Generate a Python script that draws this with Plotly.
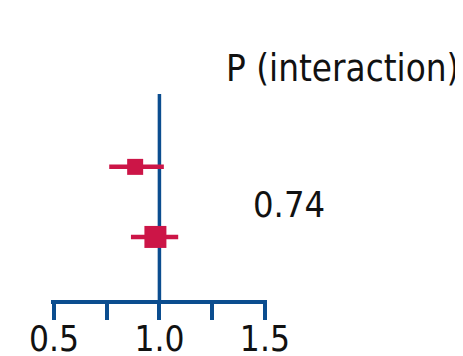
import plotly.graph_objects as go

# Data
rows = [2, 1]                      # row positions (top, bottom)
estimates = [0.885, 0.981]
ci_lower = [0.762, 0.865]
ci_upper = [1.021, 1.089]
weights = [16, 22]                 # marker sizes (study weight)
p_interaction = "0.74"
tick_vals = [0.5, 0.75, 1.0, 1.25, 1.5]
tick_text = ["0.5", "", "1.0", "", "1.5"]

RED = "#CC1547"
BLUE = "#0B4D8F"
FONT = "DejaVu Sans Condensed, DejaVu Sans, sans-serif"

# page has an 8px body margin, so the figure is offset by (8, 8)
OFF = 8
L, T, PW, PH = 51 - OFF, 94 - OFF, 216, 206
W, H = 463 - OFF, 356 - OFF

fig = go.Figure()
fig.add_trace(go.Scatter(
    x=estimates, y=rows, mode="markers",
    marker=dict(symbol="square", size=weights, color=RED, opacity=1, line=dict(width=0)),
    error_x=dict(type="data", symmetric=False,
                 array=[u - e for u, e in zip(ci_upper, estimates)],
                 arrayminus=[e - l for e, l in zip(estimates, ci_lower)],
                 color=RED, thickness=4.5, width=0),
    showlegend=False, hoverinfo="skip", cliponaxis=False,
))

fig.add_shape(type="line", xref="x", yref="paper", x0=1.0, x1=1.0, y0=0, y1=1,
              line=dict(color=BLUE, width=3.5), layer="below")

fig.add_annotation(text="P (interaction)", xref="paper", yref="paper",
                   x=(342 - 51) / PW, y=(300 - 92) / PH, xanchor="center", yanchor="bottom",
                   showarrow=False, font=dict(size=36.5, color="#111111", family=FONT))
fig.add_annotation(text=p_interaction, xref="paper", yref="y",
                   x=(289 - 51) / PW, y=1.5, yshift=-3, xanchor="center", yanchor="middle",
                   showarrow=False, font=dict(size=36, color="#111111", family=FONT))

fig.update_layout(
    width=W, height=H,
    margin=dict(l=L, r=W - L - PW, t=T, b=H - T - PH, autoexpand=False),
    paper_bgcolor="white", plot_bgcolor="white",
    font=dict(family=FONT, size=35, color="#111111"),
    xaxis=dict(range=[0.486, 1.51], tickvals=tick_vals, ticktext=tick_text,
               showline=True, linecolor=BLUE, linewidth=3.5,
               ticks="outside", ticklen=16, tickwidth=3.5, tickcolor=BLUE,
               ticklabelstandoff=-11,
               showgrid=False, zeroline=False, fixedrange=True, automargin=False),
    yaxis=dict(range=[0.1, 3.04], visible=False, showgrid=False,
               zeroline=False, fixedrange=True, automargin=False),
)

fig.write_html("out.html")
